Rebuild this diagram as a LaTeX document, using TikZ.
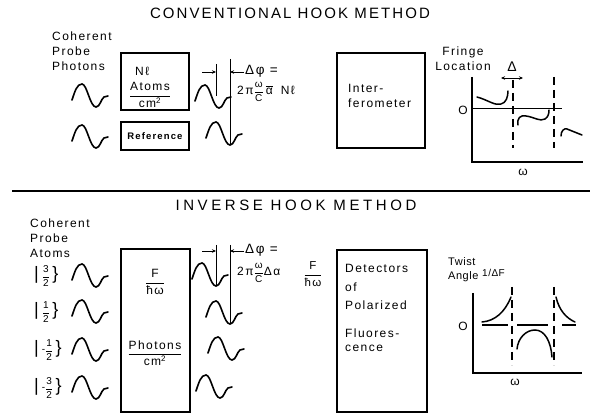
\documentclass[tikz,border=0pt]{standalone}
\usepackage{amsmath}
\usepackage{fontspec}
\setmainfont{Liberation Sans}[LetterSpace=12]
\newfontfamily\titleA{Liberation Sans}[LetterSpace=14]
\newfontfamily\titleB{Liberation Sans}[LetterSpace=24]
\newfontfamily\tight{Liberation Sans}[LetterSpace=5]
\newfontfamily\plain{Liberation Sans}
\usetikzlibrary{arrows.meta}
\newcommand{\myfr}[2]{{\fontsize{10}{12}\selectfont$\dfrac{\text{#1}}{\text{#2}}$}}
\newcommand{\myket}[2]{{\plain\fontsize{18}{18}\selectfont|}\hspace{3pt}{\plain\fontsize{10}{10}\selectfont\raisebox{0.5pt}{#1}}{\plain\fontsize{10}{10}\selectfont$\dfrac{\text{#2}}{\text{2}}$}\hspace{2.5pt}{\plain\fontsize{18}{18}\selectfont\}}}
\tikzset{
  box/.style={draw, line width=1.6pt, inner sep=0pt},
  txt/.style={font=\fontsize{12}{15}\selectfont, inner sep=0pt},
  small/.style={font=\tight\fontsize{10}{12}\selectfont, inner sep=0pt},
  big/.style={font=\fontsize{13.5}{15}\selectfont, inner sep=0pt},
  ttla/.style={font=\titleA\fontsize{15}{18}\selectfont, inner sep=0pt},
  ttlb/.style={font=\titleB\fontsize{15}{18}\selectfont, inner sep=0pt},
  wv/.style={line width=1.6pt, line cap=round},
  ax/.style={line width=1.4pt},
  dsh/.style={line width=1.1pt, dash pattern=on 8pt off 5pt},
  crv/.style={line width=1.5pt, line cap=round},
  marker/.style={line width=0.9pt},
  tip/.style={line width=0.9pt, -{Stealth[length=4pt,width=3.5pt]}},
  wave/.pic={
    \draw[wv] (0,4) .. controls (3,-5) and (5,-12) .. (10,-12)
      .. controls (15,-12) and (18,11) .. (24,11)
      .. controls (28,11) and (29,3) .. (32,1) -- (36,0);
    \coordinate (-tr) at (24,11);
  }
}
\begin{document}
\begin{tikzpicture}[x=1pt,y=-1pt]
\useasboundingbox (0,0) rectangle (590,417);

% ---------- top ----------
\node[ttla] (t1) at (290,13) {CONVENTIONAL HOOK METHOD};
\node[txt, align=left, anchor=west] (cpp) at (52,51) {Coherent\\Probe\\Photons};

\node[box, minimum width=68pt, minimum height=57pt] (nbox) at (155,81.5) {};
\node[txt, anchor=west] (nl) at (135,71) {Nℓ};
\node[txt] (atoms) at (150,95) {$\dfrac{\text{Atoms}}{\text{cm}^{\text{2}}}$};
\node[box, minimum width=68pt, minimum height=28pt, font=\bfseries\fontsize{9.5}{11}\selectfont] (refbox) at (155,136) {Reference};

\pic (lw1) at (72,96) {wave};
\pic (lw2) at (72,137) {wave};
\pic (rw1) at (195,97) {wave};
\pic (rw2) at (206,134) {wave};

\coordinate (s1top) at (216,64);
\coordinate (s1bot) at (216,96);
\coordinate (l1top) at (230,59);
\draw[marker] (s1top) -- (s1bot);
\draw[marker] (l1top) -- (rw2-tr);
\coordinate (a1s) at (202,72);
\coordinate (a1e) at (216,72);
\coordinate (a2s) at (244,72);
\coordinate (a2e) at (230,72);
\draw[tip] (a1s) -- (a1e);
\draw[tip] (a2s) -- (a2e);
\node[big, anchor=west] (dphi1) at (245,71) {Δφ =};
\node[txt, anchor=west] (form1) at (237,92) {2π\myfr{ω}{C}\,$\overline{\text{α}}$\; Nℓ};

\node[box, minimum width=88pt, minimum height=95pt] (ibox) at (381,100.5) {};
\node[txt, align=left, anchor=west] (itext) at (348,95.5) {Inter-\\ferometer};

% graph 1
\coordinate (g1o) at (472,162);
\coordinate (g1y) at (472,77);
\coordinate (g1x) at (583,162);
\draw[ax] (g1y) -- (g1o) -- (g1x);
\coordinate (g1z0) at (472,109);
\coordinate (g1z1) at (562,109);
\draw[line width=1pt] (g1z0) -- (g1z1);
\coordinate (g1d1a) at (513,80); \coordinate (g1d1b) at (513,148);
\coordinate (g1d2a) at (554,77); \coordinate (g1d2b) at (554,148);
\draw[dsh] (g1d1a) -- (g1d1b);
\draw[dsh] (g1d2a) -- (g1d2b);
\coordinate (g1aa) at (501,78); \coordinate (g1ab) at (523,78);
\draw[line width=0.9pt, {Stealth[length=4pt,width=3.5pt]}-{Stealth[length=4pt,width=3.5pt]}] (g1aa) -- (g1ab);
\node[txt, font=\fontsize{14}{16}\selectfont] (delta) at (512,67) {Δ};
\node[txt, align=center] (fl) at (463,59) {Fringe\\Location};
\node[txt] (o1) at (463,110) {O};
\node[txt] (w1) at (523,172) {ω};
\draw[crv] (477,97) .. controls (488,100) and (495,106) .. (501,104)
  .. controls (506,103) and (508,97) .. (508,91);
\draw[crv] (518,125) .. controls (517,118) and (520,115) .. (526,116)
  .. controls (534,117) and (540,122) .. (545,119)
  .. controls (548,117) and (549,114) .. (549,110);
\draw[crv] (561,136) .. controls (561,131) and (564,128) .. (567,129)
  .. controls (572,131) and (577,133) .. (582,135);

% separator
\coordinate (sepL) at (12,191);
\coordinate (sepR) at (590,191);
\draw[line width=1.2pt] (sepL) -- (sepR);

% ---------- bottom ----------
\node[ttlb] (t2) at (296,205) {INVERSE HOOK METHOD};
\node[txt, align=left, anchor=west] (cpa) at (30,238) {Coherent\\Probe\\Atoms};

\node[inner sep=0pt, anchor=west] (k1) at (34,276) {\myket{}{3}};
\node[inner sep=0pt, anchor=west] (k2) at (34,312) {\myket{}{1}};
\node[inner sep=0pt, anchor=west] (k3) at (34,350) {\myket{-}{1}};
\node[inner sep=0pt, anchor=west] (k4) at (34,388) {\myket{-}{3}};

\pic (bl1) at (72,276) {wave};
\pic (bl2) at (72,312) {wave};
\pic (bl3) at (72,350) {wave};
\pic (bl4) at (72,388) {wave};

\node[box, minimum width=69pt, minimum height=163pt] (bigbox) at (155.5,330.5) {};
\node[txt] (fhw) at (155,282) {$\dfrac{\text{F}}{\text{ħω}}$};
\node[txt] (phot) at (155,353) {$\dfrac{\text{Photons}}{\text{cm}^{\text{2}}}$};

\pic (br1) at (192,275) {wave};
\pic (br2) at (206,313) {wave};
\pic (br3) at (208,349) {wave};
\pic (br4) at (196,387) {wave};

\coordinate (s2top) at (216,245);
\coordinate (l2top) at (230,245);
\draw[marker] (s2top) -- (br1-tr);
\draw[marker] (l2top) -- (br2-tr);
\coordinate (b1s) at (202,251);
\coordinate (b1e) at (216,251);
\coordinate (b2s) at (244,251);
\coordinate (b2e) at (230,251);
\draw[tip] (b1s) -- (b1e);
\draw[tip] (b2s) -- (b2e);
\node[big, anchor=west] (dphi2) at (245,250) {Δφ =};
\node[txt, anchor=west] (form2) at (237,273) {2π\myfr{ω}{C}Δα};
\node[txt, font=\fontsize{11.5}{13}\selectfont] (form2b) at (313,274) {$\dfrac{\text{F}}{\text{ħω}}$};

\node[box, minimum width=90pt, minimum height=162pt] (dbox) at (382,331) {};
\node[txt, anchor=west] (d1) at (345,268) {Detectors};
\node[txt, anchor=west] (d2) at (345,287) {of};
\node[txt, anchor=west] (d3) at (345,305) {Polarized};
\node[txt, anchor=west] (d4) at (345,333) {Fluores-};
\node[txt, anchor=west] (d5) at (345,348) {cence};

% graph 2
\coordinate (g2o) at (473,373);
\coordinate (g2y) at (473,293);
\coordinate (g2x) at (582,373);
\draw[ax] (g2y) -- (g2o) -- (g2x);
\coordinate (g2z0) at (482,325);
\coordinate (g2z1) at (576,325);
\draw[line width=1.1pt, dash pattern=on 26pt off 9pt on 31pt off 14pt on 14pt] (g2z0) -- (g2z1);
\coordinate (g2d1a) at (512,287); \coordinate (g2d1b) at (512,365);
\coordinate (g2d2a) at (554,287); \coordinate (g2d2b) at (554,365);
\draw[dsh] (g2d1a) -- (g2d1b);
\draw[dsh] (g2d2a) -- (g2d2b);
\node[align=left, anchor=west, inner sep=0pt, font=\tight\fontsize{11}{14}\selectfont] (ta) at (448,270) {Twist\\Angle};
\node[small, anchor=west] (idf) at (482,273) {1/ΔF};
\node[txt] (o2) at (463,326) {O};
\node[txt] (w2) at (515,382) {ω};
\draw[crv] (482,322) .. controls (495,321) and (505,312) .. (511,297);
\draw[crv] (517,349) .. controls (518,338) and (526,330) .. (535,330)
  .. controls (545,330) and (551,342) .. (552,357);
\draw[crv] (556,297) .. controls (559,310) and (566,318) .. (575,322);
\end{tikzpicture}
\end{document}
